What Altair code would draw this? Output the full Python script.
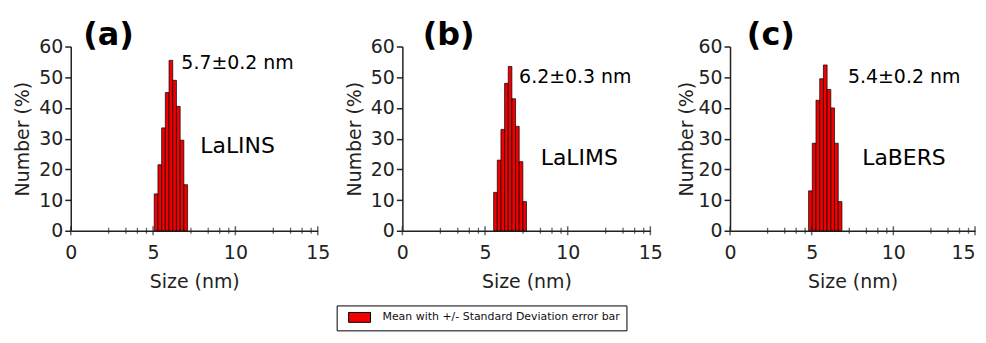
import altair as alt
import pandas as pd

# ---- data ----
legend_label = "Mean with +/- Standard Deviation error bar"

a_bin_start = [5.07, 5.295, 5.52, 5.745, 5.97, 6.195, 6.42, 6.645, 6.87]
a_heights = [12, 21.5, 33.5, 45, 55.5, 49, 40.5, 29.5, 15]
a_bin_width = 0.225

b_bin_start = [5.52, 5.741, 5.962, 6.183, 6.404, 6.625, 6.846, 7.067, 7.288]
b_heights = [12.5, 23, 33, 48, 53.5, 43, 34, 22.5, 9.5]
b_bin_width = 0.221

c_bin_start = [4.81, 5.037, 5.264, 5.491, 5.718, 5.945, 6.172, 6.399, 6.626]
c_heights = [13, 28.5, 42.5, 49.5, 54, 46, 40, 28.5, 9.5]
c_bin_width = 0.227

panel_labels = ["(a)", "(b)", "(c)"]
panel_label_x = [2.3, 2.8, 2.5]
panel_label_y = 63.8
mean_texts = ["5.7\u00b10.2 nm", "6.2\u00b10.3 nm", "5.4\u00b10.2 nm"]
mean_x = [10.13, 10.46, 10.66]
mean_y = [54.5, 50.0, 50.2]
sample_names = ["LaLINS", "LaLIMS", "LaBERS"]
sample_x = [10.13, 10.7, 10.65]
sample_y = [27.5, 23.6, 23.6]

x_major = [0, 5, 10, 15]
x_minor = [2.3, 3.35, 4.05, 4.6, 7.3, 8.35, 9.05, 9.6, 12.3, 13.35, 14.05, 14.6]
y_ticks = [0, 10, 20, 30, 40, 50, 60]

FONT = "DejaVu Sans"
RED = "#f00000"


def panel(starts, width, heights, idx, w, ytp, last=False):
    df = pd.DataFrame({
        "x": starts,
        "x2": [s + width for s in starts],
        "y": heights,
        "series": [legend_label] * len(starts),
    })
    xscale = alt.Scale(domain=[0, 15], nice=False, zero=False)
    yscale = alt.Scale(domain=[0, 60], nice=False)
    xkw = dict(values=x_major, ticks=False, labelPadding=13,
               title="Size (nm)", grid=False, labelFlush=False,
               labelOverlap=False)
    if last:
        xkw["labelAlign"] = {"expr": "datum.value == 15 ? 'right' : 'center'"}
    xaxis = alt.Axis(**xkw)
    yaxis = alt.Axis(values=y_ticks, tickSize=6, labelPadding=2,
                     title="Number (%)", grid=False, labelOverlap=False,
                     titlePadding=ytp)

    def xs(f):
        return alt.X(f, scale=xscale, axis=xaxis)

    def ys(f):
        return alt.Y(f, scale=yscale, axis=yaxis)

    y0 = alt.YDatum(0, scale=yscale, axis=yaxis)

    bars = alt.Chart(df).mark_bar(stroke="black", strokeWidth=0.7).encode(
        x=xs("x:Q"),
        x2="x2:Q",
        y=ys("y:Q"),
        y2=alt.datum(0),
        color=alt.Color("series:N", scale=alt.Scale(range=[RED]),
                        legend=alt.Legend(
                            title=None, orient="none", legendX=267, legendY=260,
                            symbolType="M0,-0.9H4V0.9H0Z", symbolSize=121,
                            symbolStrokeColor="black", symbolStrokeWidth=1,
                            labelFontSize=11, labelFont=FONT, labelColor="#111",
                            labelLimit=0,
                            strokeColor="black", padding=6, labelOffset=28)),
    )
    major = alt.Chart(pd.DataFrame({"t": x_major})).mark_tick(
        orient="vertical", size=9, thickness=1.5, color="#222").encode(
        x=xs("t:Q"), y=y0)
    minor = alt.Chart(pd.DataFrame({"t": x_minor})).mark_tick(
        orient="vertical", size=6, thickness=1.3, color="#222").encode(
        x=xs("t:Q"), y=y0)
    lab = alt.Chart(pd.DataFrame({"x": [panel_label_x[idx]], "y": [panel_label_y],
                                  "t": [panel_labels[idx]]})).mark_text(
        fontSize=32, fontWeight="bold", font=FONT, color="black").encode(
        x=xs("x:Q"), y=ys("y:Q"), text="t:N")
    mean = alt.Chart(pd.DataFrame({"x": [mean_x[idx]], "y": [mean_y[idx]],
                                   "t": [mean_texts[idx]]})).mark_text(
        fontSize=19, font=FONT, color="black").encode(
        x=xs("x:Q"), y=ys("y:Q"), text="t:N")
    name = alt.Chart(pd.DataFrame({"x": [sample_x[idx]], "y": [sample_y[idx]],
                                   "t": [sample_names[idx]]})).mark_text(
        fontSize=22, font=FONT, color="black").encode(
        x=xs("x:Q"), y=ys("y:Q"), text="t:N")
    return alt.layer(bars, minor, major, lab, mean, name).properties(width=w, height=185)


chart = alt.hconcat(
    panel(a_bin_start, a_bin_width, a_heights, 0, 248, 6),
    panel(b_bin_start, b_bin_width, b_heights, 1, 249, 6),
    panel(c_bin_start, c_bin_width, c_heights, 2, 246, 1, last=True),
    spacing=14,
).properties(
    padding={"left": 5, "top": 10, "right": 2, "bottom": 5}
).configure(font=FONT).configure_view(stroke=None).configure_axis(
    domainColor="#222", domainWidth=1.5, tickColor="#222", tickWidth=1.5,
    labelFontSize=19, labelColor="#222", labelFont=FONT,
    titleFontSize=19, titleColor="#222", titleFont=FONT, titleFontWeight="normal",
).configure_axisX(titlePadding=10)

chart.save("out.html", embed_options={"renderer": "svg", "actions": False})
